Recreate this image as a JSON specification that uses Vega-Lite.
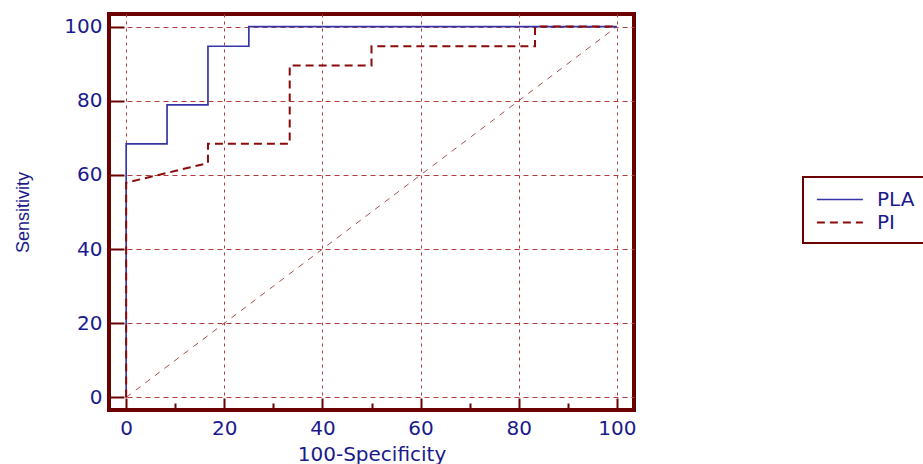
{
  "$schema": "https://vega.github.io/schema/vega-lite/v6.json",
  "width": 525,
  "height": 396,
  "autosize": {"type": "none"},
  "padding": {"left": 109, "top": 14, "right": 289, "bottom": 54},
  "background": "white",
  "config": {
    "view": {"stroke": "#6b0000", "strokeWidth": 4},
    "font": "DejaVu Sans",
    "legend": {"strokeWidth": 2}
  },
  "datasets": {
    "roc": [
      {"series": "PLA", "i": 0, "fpr": 0, "sens": 0},
      {"series": "PLA", "i": 1, "fpr": 0, "sens": 68.4},
      {"series": "PLA", "i": 2, "fpr": 8.33, "sens": 68.4},
      {"series": "PLA", "i": 3, "fpr": 8.33, "sens": 78.9},
      {"series": "PLA", "i": 4, "fpr": 16.67, "sens": 78.9},
      {"series": "PLA", "i": 5, "fpr": 16.67, "sens": 94.7},
      {"series": "PLA", "i": 6, "fpr": 25, "sens": 94.7},
      {"series": "PLA", "i": 7, "fpr": 25, "sens": 100},
      {"series": "PLA", "i": 8, "fpr": 100, "sens": 100},
      {"series": "PI", "i": 0, "fpr": 0, "sens": 0},
      {"series": "PI", "i": 1, "fpr": 0, "sens": 57.9},
      {"series": "PI", "i": 2, "fpr": 16.67, "sens": 63.2},
      {"series": "PI", "i": 3, "fpr": 16.67, "sens": 68.4},
      {"series": "PI", "i": 4, "fpr": 33.33, "sens": 68.4},
      {"series": "PI", "i": 5, "fpr": 33.33, "sens": 89.5},
      {"series": "PI", "i": 6, "fpr": 50, "sens": 89.5},
      {"series": "PI", "i": 7, "fpr": 50, "sens": 94.7},
      {"series": "PI", "i": 8, "fpr": 83.33, "sens": 94.7},
      {"series": "PI", "i": 9, "fpr": 83.33, "sens": 100},
      {"series": "PI", "i": 10, "fpr": 100, "sens": 100}
    ],
    "diag": [
      {"fpr": 0, "sens": 0},
      {"fpr": 100, "sens": 100}
    ]
  },
  "layer": [
    {
      "data": {"name": "diag"},
      "mark": {"type": "line", "color": "#a03a3a", "strokeWidth": 1, "strokeDash": [6, 6], "opacity": 0.9},
      "encoding": {
        "x": {
          "field": "fpr", "type": "quantitative",
          "scale": {"domain": [-3.5, 103.5], "nice": false, "zero": false},
          "axis": {
            "values": [0,5,10,15,20,25,30,35,40,45,50,55,60,65,70,75,80,85,90,95,100],
            "labelExpr": "datum.value % 20 === 0 ? datum.label : ''",
            "title": "100-Specificity",
            "titleFont": "DejaVu Sans",
            "titleFontSize": 20,
            "titleFontWeight": "normal",
            "titleColor": "#1a1a8c",
            "titleBaseline": "alphabetic",
            "titleY": 50,
            "labelFont": "DejaVu Sans",
            "labelFontSize": 20,
            "labelColor": "#1a1a8c",
            "labelPadding": 20,
            "labelFlush": false,
            "labelOverlap": false,
            "domain": false,
            "tickColor": "#6b0000",
            "tickWidth": 2,
            "tickSize": {"condition": {"test": "datum.value % 20 === 0", "value": -12}, "value": -7},
            "grid": true,
            "gridColor": "#b03c3c",
            "gridDash": [3, 4],
            "gridWidth": 1,
            "gridOpacity": {"condition": {"test": "datum.value % 20 === 0", "value": 1}, "value": 0}
          }
        },
        "y": {
          "field": "sens", "type": "quantitative",
          "scale": {"domain": [-3.4, 103.4], "nice": false, "zero": false},
          "axis": {
            "values": [0,5,10,15,20,25,30,35,40,45,50,55,60,65,70,75,80,85,90,95,100],
            "labelExpr": "datum.value % 20 === 0 ? datum.label : ''",
            "title": "Sensitivity",
            "titleFont": "Liberation Sans",
            "titleFontSize": 18,
            "titleFontWeight": "normal",
            "titleColor": "#1a1a8c",
            "titleBaseline": "alphabetic",
            "titleX": -81,
            "labelFont": "DejaVu Sans",
            "labelFontSize": 20,
            "labelColor": "#1a1a8c",
            "labelPadding": 22,
            "labelFlush": false,
            "labelOverlap": false,
            "domain": false,
            "tickColor": "#6b0000",
            "tickWidth": 2,
            "tickSize": {"condition": {"test": "datum.value % 20 === 0", "value": -15}, "value": -8},
            "grid": true,
            "gridColor": "#b03c3c",
            "gridDash": [5, 4],
            "gridWidth": 1,
            "gridOpacity": {"condition": {"test": "datum.value % 20 === 0", "value": 1}, "value": 0}
          }
        }
      }
    },
    {
      "data": {"name": "roc"},
      "mark": {"type": "line", "interpolate": "linear"},
      "encoding": {
        "x": {"field": "fpr", "type": "quantitative"},
        "y": {"field": "sens", "type": "quantitative"},
        "order": {"field": "i", "type": "quantitative"},
        "color": {
          "field": "series", "type": "nominal",
          "scale": {"domain": ["PLA", "PI"], "range": ["#3535a8", "#8b0a0a"]},
          "legend": {
            "title": null,
            "orient": "none",
            "legendX": 694,
            "legendY": 163,
            "strokeColor": "#6b0000",
            "padding": 10,
            "symbolType": "M-0.75,0H3.25",
            "symbolSize": 529,
            "symbolStrokeWidth": 1.5,
            "labelFont": "DejaVu Sans",
            "labelFontSize": 20,
            "labelColor": "#1a1a8c",
            "labelOffset": 39,
            "rowPadding": -3
          }
        },
        "strokeDash": {
          "field": "series", "type": "nominal",
          "scale": {"domain": ["PLA", "PI"], "range": [[1, 0], [8, 5]]}
        },
        "strokeWidth": {
          "field": "series", "type": "nominal",
          "scale": {"domain": ["PLA", "PI"], "range": [1.7, 2]},
          "legend": null
        }
      }
    }
  ]
}
